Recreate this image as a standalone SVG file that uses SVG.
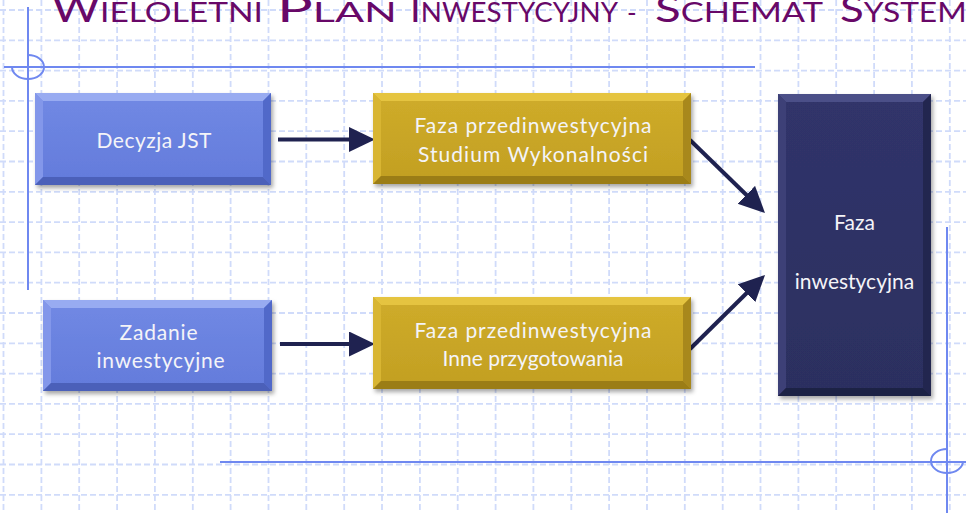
<svg xmlns="http://www.w3.org/2000/svg" width="966" height="513" viewBox="0 0 966 513">
<defs>
<style>
.grid{fill:none;stroke:#d0dbfa;stroke-width:1.8;stroke-dasharray:6 3}
.deco{fill:none;stroke:#6f88f0;stroke-width:2}
.title{font-family:Lato,"Open Sans","Liberation Sans",sans-serif;font-size:26px;fill:#680868}
.big{font-size:36px}
.lbl{font-family:Lato,"Open Sans","Liberation Sans",sans-serif;font-size:21px;fill:#f4f4f8;text-anchor:middle}
.conn{fill:none;stroke:#1f2250;stroke-width:4}
</style>
<filter id="sh" x="-10%" y="-10%" width="125%" height="130%">
<feDropShadow dx="2" dy="3" stdDeviation="2" flood-color="#000" flood-opacity="0.35"/>
</filter>
<marker id="ah" markerUnits="userSpaceOnUse" markerWidth="28" markerHeight="26" refX="16" refY="12.5" orient="auto">
<path d="M0,0 L26,12.5 L0,25 Z" fill="#1f2250"/>
</marker>
<linearGradient id="gBlue" x1="0" y1="0" x2="0" y2="1"><stop offset="0" stop-color="#7189e4"/><stop offset="1" stop-color="#637bdb"/></linearGradient>
<linearGradient id="gGold" x1="0" y1="0" x2="0" y2="1"><stop offset="0" stop-color="#cfac2a"/><stop offset="1" stop-color="#c29f22"/></linearGradient>
<linearGradient id="gNavy" x1="0" y1="0" x2="0" y2="1"><stop offset="0" stop-color="#30346a"/><stop offset="1" stop-color="#2c2f60"/></linearGradient>
</defs>

<rect x="0" y="0" width="966" height="513" fill="#ffffff"/>

<g id="grid">
<path class="grid" d="M3.5 0V513M41.4 0V513M79.2 0V513M117.1 0V513M154.9 0V513M192.8 0V513M230.6 0V513M268.5 0V513M306.3 0V513M344.2 0V513M382 0V513M419.9 0V513M457.7 0V513M495.6 0V513M533.4 0V513M571.3 0V513M609.1 0V513M647 0V513M684.8 0V513M722.7 0V513M760.5 0V513M798.4 0V513M836.2 0V513M874.1 0V513M911.9 0V513M949.8 0V513"/>
<path class="grid" d="M0 10H966M0 40.3H966M0 70.6H966M0 100.9H966M0 131.2H966M0 161.5H966M0 191.8H966M0 222.1H966M0 252.4H966M0 282.7H966M0 313H966M0 343.3H966M0 373.6H966M0 403.9H966M0 434.2H966M0 464.5H966M0 494.8H966"/>
</g>

<g id="decoration">
<path class="deco" d="M28 7V290M4 67H755"/>
<path class="deco" d="M12 67A16 12 0 1 0 28 55"/>
<path class="deco" d="M947 227V513M220 462H966"/>
<path class="deco" d="M947 449A16 12 0 1 0 963 461"/>
</g>

<g id="title">
<text class="title" x="52" y="21.5" textLength="211" lengthAdjust="spacingAndGlyphs"><tspan class="big">W</tspan>IELOLETNI</text>
<text class="title" x="277" y="21.5" textLength="120" lengthAdjust="spacingAndGlyphs"><tspan class="big">P</tspan>LAN</text>
<text class="title" x="410" y="21.5" textLength="208" lengthAdjust="spacingAndGlyphs"><tspan class="big">I</tspan>NWESTYCYJNY</text>
<text class="title" x="627" y="21.5">-</text>
<text class="title" x="655" y="21.5" textLength="168" lengthAdjust="spacingAndGlyphs"><tspan class="big">S</tspan>CHEMAT</text>
<text class="title" x="840" y="21.5" textLength="150" lengthAdjust="spacingAndGlyphs"><tspan class="big">S</tspan>YSTEMU</text>
</g>

<g id="connectors">
<line class="conn" x1="278" y1="139.5" x2="365" y2="139.5" marker-end="url(#ah)"/>
<line class="conn" x1="280" y1="344" x2="365" y2="344" marker-end="url(#ah)"/>
<line class="conn" x1="690" y1="140" x2="757.8" y2="206" marker-end="url(#ah)"/>
<line class="conn" x1="690" y1="349" x2="757.9" y2="282" marker-end="url(#ah)"/>
</g>

<g id="node-decyzja">
<g filter="url(#sh)">
<rect x="35" y="93" width="236" height="92" fill="url(#gBlue)"/>
<polygon points="35,93 271,93 263,101 43,101" fill="#98abf1"/>
<polygon points="35,93 43,101 43,177 35,185" fill="#8397ea"/>
<polygon points="271,93 271,185 263,177 263,101" fill="#5169c9"/>
<polygon points="35,185 271,185 263,177 43,177" fill="#4b60b9"/>
</g>
<text class="lbl" x="154" y="148" textLength="115" lengthAdjust="spacing">Decyzja JST</text>
</g>

<g id="node-zadanie">
<g filter="url(#sh)">
<rect x="43" y="300" width="229" height="91" fill="url(#gBlue)"/>
<polygon points="43,300 272,300 264,308 51,308" fill="#98abf1"/>
<polygon points="43,300 51,308 51,383 43,391" fill="#8397ea"/>
<polygon points="272,300 272,391 264,383 264,308" fill="#5169c9"/>
<polygon points="43,391 272,391 264,383 51,383" fill="#4b60b9"/>
</g>
<text class="lbl" x="158.5" y="340" textLength="78" lengthAdjust="spacing">Zadanie</text>
<text class="lbl" x="160.5" y="368" textLength="128" lengthAdjust="spacing">inwestycyjne</text>
</g>

<g id="node-studium">
<g filter="url(#sh)">
<rect x="373" y="93" width="318" height="91" fill="url(#gGold)"/>
<polygon points="373,93 691,93 683,101 381,101" fill="#e5c43f"/>
<polygon points="373,93 381,101 381,176 373,184" fill="#d8b532"/>
<polygon points="691,93 691,184 683,176 683,101" fill="#a8881b"/>
<polygon points="373,184 691,184 683,176 381,176" fill="#9b7d17"/>
</g>
<text class="lbl" x="533" y="133" textLength="237" lengthAdjust="spacing">Faza przedinwestycyjna</text>
<text class="lbl" x="533" y="161.5" textLength="230" lengthAdjust="spacing">Studium Wykonalności</text>
</g>

<g id="node-inne">
<g filter="url(#sh)">
<rect x="373" y="297" width="318" height="92" fill="url(#gGold)"/>
<polygon points="373,297 691,297 683,305 381,305" fill="#e5c43f"/>
<polygon points="373,297 381,305 381,381 373,389" fill="#d8b532"/>
<polygon points="691,297 691,389 683,381 683,305" fill="#a8881b"/>
<polygon points="373,389 691,389 683,381 381,381" fill="#9b7d17"/>
</g>
<text class="lbl" x="533" y="337.5" textLength="237" lengthAdjust="spacing">Faza przedinwestycyjna</text>
<text class="lbl" x="533" y="366">Inne przygotowania</text>
</g>

<g id="node-inwestycyjna">
<g filter="url(#sh)">
<rect x="778" y="94" width="153" height="302" fill="url(#gNavy)"/>
<polygon points="778,94 931,94 923,102 786,102" fill="#4b4f88"/>
<polygon points="778,94 786,102 786,388 778,396" fill="#3d4177"/>
<polygon points="931,94 931,396 923,388 923,102" fill="#24274f"/>
<polygon points="778,396 931,396 923,388 786,388" fill="#1e2045"/>
</g>
<text class="lbl" x="854.5" y="230">Faza</text>
<text class="lbl" x="854.5" y="289">inwestycyjna</text>
</g>
</svg>
